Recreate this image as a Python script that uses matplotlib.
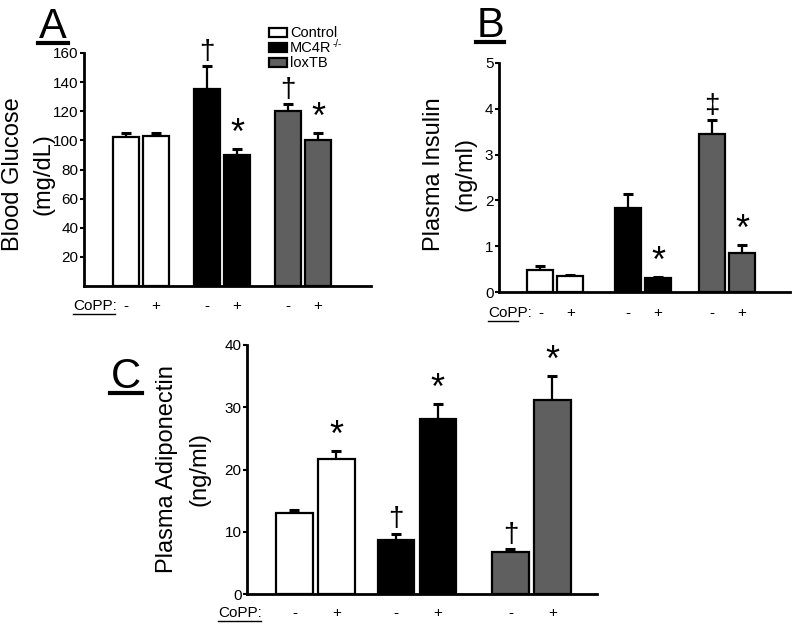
import numpy as np
import matplotlib
matplotlib.use("Agg")
import matplotlib.pyplot as plt
from matplotlib.lines import Line2D

plt.rcParams['font.family'] = ['Liberation Sans', 'DejaVu Sans']

groups = ["Control", "MC4R", "loxTB"]
copp = ["-", "+"]
colors = ["white", "black", "#5f5f5f"]

# panel A: blood glucose (mg/dL)
glucose = [102, 103, 135, 90, 120, 100]
glucose_err = [3, 2, 16, 4, 5, 5]
glucose_marks = ["", "", "†", "*", "†", "*"]

# panel B: plasma insulin (ng/ml)
insulin = [0.48, 0.35, 1.84, 0.30, 3.45, 0.85]
insulin_err = [0.08, 0.03, 0.30, 0.03, 0.30, 0.18]
insulin_marks = ["", "", "", "*", "‡", "*"]

# panel C: plasma adiponectin (ng/ml)
adipo = [13.0, 21.7, 8.7, 28.1, 6.8, 31.1]
adipo_err = [0.5, 1.3, 1.0, 2.4, 0.4, 3.9]
adipo_marks = ["", "*", "†", "*", "†", "*"]

W, H = 800, 627
fig = plt.figure(figsize=(8, 6.27), dpi=100)


def px_axes(x0, y0, x1, y1):
    # pixel box (top-left origin) -> figure axes
    return fig.add_axes([x0 / W, 1 - y1 / H, (x1 - x0) / W, (y1 - y0) / H])


def fig_line(x0, x1, y, lw=2):
    fig.add_artist(Line2D([x0 / W, x1 / W], [1 - y / H, 1 - y / H],
                          transform=fig.transFigure, color="black", lw=lw))


def ylab(lines, xs, y):
    for t, x in zip(lines, xs):
        fig.text(x / W, 1 - y / H, t, rotation=90, ha="center", va="center",
                 fontsize=17)


def panel(ax, vals, errs, marks, centers, xmax, width, ymax, ticks, ticklabels):
    pos = []
    for c in centers:
        pos += [c - 0.5, c + 0.5]
    for i, (p, v, e) in enumerate(zip(pos, vals, errs)):
        ax.bar(p, v, width=width, color=colors[i // 2], edgecolor="black",
               linewidth=1.6, zorder=2)
        ax.errorbar(p, v, yerr=[[0], [e]], fmt="none", ecolor="black",
                    elinewidth=1.6, capsize=3.5, capthick=2.2, zorder=1)
        m = marks[i]
        if m:
            fs = 26 if m == "*" else 20
            off = -2 if m == "*" else 1
            ax.annotate(m, (p, v + e), xytext=(0, off), textcoords="offset points",
                        ha="center", va="bottom", fontsize=fs, clip_on=False)
    ax.set_xlim(0, xmax)
    ax.set_ylim(0, ymax)
    ax.set_yticks(ticks)
    ax.set_yticklabels(ticklabels, fontsize=11)
    ax.set_xticks([])
    for s in ["top", "right"]:
        ax.spines[s].set_visible(False)
    for s in ["left", "bottom"]:
        ax.spines[s].set_linewidth(2)
    ax.tick_params(axis="y", length=3, width=1.5, pad=1)
    return pos


def copp_row(ax, pos, yoff, lx0, lx1, ly):
    trans = ax.get_xaxis_transform()
    for i, p in enumerate(pos):
        ax.text(p, yoff, copp[i % 2], transform=trans, ha="center", va="center",
                fontsize=11)
    fig.text(lx0 / W, 1 - ly / H, "CoPP:", ha="left", va="center", fontsize=11)
    fig_line(lx0, lx1, ly + 8, lw=1)


# ---- A ----
axA = px_axes(84, 53, 371, 286)
posA = panel(axA, glucose, glucose_err, glucose_marks, [1.9, 4.6, 7.3], 9.57, 0.87,
             160, [20, 40, 60, 80, 100, 120, 140, 160],
             ["20", "40", "60", "80", "100", "120", "140", "160"])
copp_row(axA, posA, -0.085, 73, 115, 306)
ylab(["Blood Glucose", "(mg/dL)"], [13, 44], 174)

# legend
for k, (g, c) in enumerate(zip(groups, colors)):
    y = 33 + k * 15
    fig.patches.append(plt.Rectangle((269 / W, 1 - (y + 4) / H), 18 / W, 9 / H,
                                     transform=fig.transFigure, facecolor=c,
                                     edgecolor="black", lw=1.6))
    t = fig.text(290 / W, 1 - y / H, g, ha="left", va="center", fontsize=10.5)
    if k == 1:
        axA.annotate("-/-", (1, 1), xycoords=t, xytext=(0.5, 1.5),
                     textcoords="offset points", ha="left", va="top",
                     fontsize=7, annotation_clip=False)

# ---- B ----
axB = px_axes(499, 63, 790, 292)
posB = panel(axB, insulin, insulin_err, insulin_marks, [1.88, 4.8, 7.6], 9.7, 0.87,
             5, [0, 1, 2, 3, 4, 5], ["0", "1", "2", "3", "4", "5"])
copp_row(axB, posB, -0.09, 488, 518, 313)
ylab(["Plasma Insulin", "(ng/ml)"], [434, 465], 174)

# ---- C ----
axC = px_axes(247, 345, 597, 594)
posC = panel(axC, adipo, adipo_err, adipo_marks, [1.63, 4.04, 6.77], 8.33, 0.86,
             40, [0, 10, 20, 30, 40], ["0", "10", "20", "30", "40"])
copp_row(axC, posC, -0.077, 218, 261, 613)
ylab(["Plasma Adiponectin", "(ng/ml)"], [167, 200], 469)

# panel letters
for letter, x0, x1, ytxt, yline in [("A", 38, 68, 38, 43), ("B", 476, 504, 37, 42),
                                    ("C", 110, 142, 388, 393)]:
    fig.text((x0 + x1) / 2 / W, 1 - ytxt / H, letter, ha="center", va="baseline",
             fontsize=30)
    fig_line(x0, x1, yline, lw=3)

fig.savefig("out.png", dpi=100)
